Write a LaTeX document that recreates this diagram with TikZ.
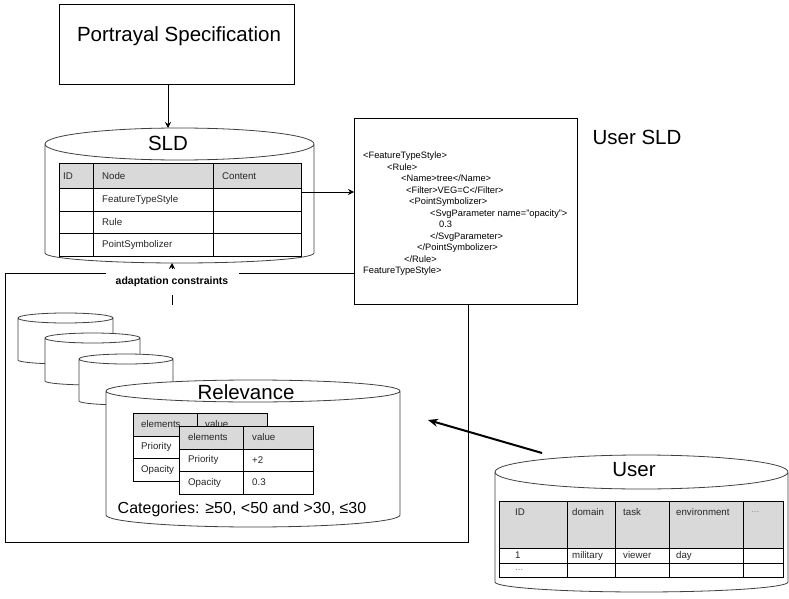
\documentclass[tikz,border=0pt]{standalone}
\usepackage{fontspec}
\setmainfont{Liberation Sans}
\usetikzlibrary{positioning,calc,arrows.meta}

% cylinder drawn round an empty named box: name, top radius, bottom radius
\newcommand{\dbcyl}[3]{%
  \draw[dbline] let \p1=(#1.north west), \p2=(#1.south east), \n1={0.5*(\x2-\x1)} in
    (\x1,\y1-#2) -- (\x1,\y2+#3) arc[start angle=180, end angle=360, x radius=\n1, y radius=#3]
    -- (\x2,\y1-#2) arc[start angle=0, end angle=180, x radius=\n1, y radius=#2] -- cycle
    (\x1,\y1-#2) arc[start angle=180, end angle=360, x radius=\n1, y radius=#2];
}

\begin{document}
\begin{tikzpicture}[
    x=1pt, y=1pt,
    arr/.style={-{Stealth[length=6pt, width=6pt]}, line width=0.8pt},
    bigarr/.style={-{Stealth[length=10pt, width=8pt]}, line width=2pt},
    dbbox/.style={inner sep=0pt, outer sep=0pt, anchor=north west},
    dbline/.style={draw=black!75, fill=white, line width=0.8pt},
    title/.style={font=\fontsize{20.5}{24}\selectfont},
    cell/.style={anchor=west, inner sep=0pt, text=black!85, font=\fontsize{9.7}{11}\selectfont},
    tab/.style={line width=1pt},
    hdr/.style={fill=black!15},
    adaptlbl/.style={fill=white, inner sep=0pt, minimum width=133pt, minimum height=26pt, font=\bfseries\fontsize{10.5}{12}\selectfont}
  ]
  \useasboundingbox (0,0) rectangle (789,-599);

  % Portrayal specification
  \node[draw, line width=0.8pt, minimum width=235pt, minimum height=80pt, dbbox] (spec) at (59,-4) {};
  \node[title] (spectitle) at (179,-36) {Portrayal Specification};

  % SLD database
  \node[dbbox, minimum width=269pt, minimum height=135pt] (sld) at (45,-128) {};
  \dbcyl{sld}{16pt}{10pt}
  \node[title] (sldtitle) at (168,-143) {SLD};
  \draw[arr] (spec.south -| sldtitle) -- (sld.north -| sldtitle);

  \fill[hdr] (59,-163) rectangle (301,-188);
  \node[draw, tab, dbbox, minimum width=242pt, minimum height=93pt] (sldtab) at (59,-163) {};
  \foreach \y in {188,211,233} \draw[tab] (59,-\y) -- (301,-\y);
  \foreach \x in {93,213} \draw[tab] (\x,-163) -- (\x,-256);
  \node[cell] (sldh1) at (63,-176) {ID};
  \node[cell] (sldh2) at (102,-176) {Node};
  \node[cell] (sldh3) at (222,-176) {Content};
  \foreach \t [count=\i] in {FeatureTypeStyle,Rule,PointSymbolizer}
    \node[cell] (sldrow\i) at (102,-177-22.5*\i) {\t};

  % frame of the relevance part
  \coordinate (frametl) at (5,-273);
  \coordinate (sldout) at (301,-192);
  \node[draw, fill=white, line width=0.8pt, dbbox, minimum width=223pt, minimum height=186pt] (xml) at (354,-118) {};
  \draw[line width=0.8pt] (xml.west |- frametl) -- (frametl) -- (5,-542) -- (468,-542) -- (xml.south -| 468,0);

  % adaptation constraints
  \coordinate (adaptlow) at (172,-305);
  \draw[arr] (adaptlow) -- (sld.south -| adaptlow);
  \node[adaptlbl] (adapt) at (172,-282) {adaptation constraints};

  % User SLD
  \node[anchor=north west, inner sep=0pt, align=left, font=\fontsize{9.3}{11.5}\selectfont] (xmlcode) at (363,-152) {%
    <FeatureTypeStyle>\\
    \hspace*{24pt}<Rule>\\
    \hspace*{38pt}<Name>tree</Name>\\
    \hspace*{43pt}<Filter>VEG=C</Filter>\\
    \hspace*{46pt}<PointSymbolizer>\\
    \hspace*{67pt}<SvgParameter name="opacity">\\
    \hspace*{76pt}0.3\\
    \hspace*{67pt}</SvgParameter>\\
    \hspace*{54pt}</PointSymbolizer>\\
    \hspace*{41pt}</Rule>\\
    FeatureTypeStyle>};
  \node[title] (xmllabel) at (637,-137) {User SLD};
  \draw[arr] (sldout) -- (sldout -| xml.west);

  % relevance databases
  \node[dbbox, minimum width=95pt, minimum height=51pt] (cat1) at (18,-313) {};
  \dbcyl{cat1}{5pt}{4pt}
  \node[dbbox, minimum width=95pt, minimum height=52pt] (cat2) at (45,-333) {};
  \dbcyl{cat2}{5pt}{4pt}
  \node[dbbox, minimum width=94pt, minimum height=51pt] (cat3) at (79,-354) {};
  \dbcyl{cat3}{5pt}{4pt}
  \node[dbbox, minimum width=294pt, minimum height=147pt] (rel) at (106,-380) {};
  \dbcyl{rel}{11pt}{12pt}
  \node[title] (reltitle) at (246,-392) {Relevance};

  % back table
  \fill[hdr] (133,-413) rectangle (267,-436);
  \draw[tab] (133,-413) rectangle (267,-481);
  \foreach \y in {436,458} \draw[tab] (133,-\y) -- (267,-\y);
  \draw[tab] (197,-413) -- (197,-481);
  \node[cell] (bkh1) at (141,-424.5) {elements};
  \node[cell] (bkh2) at (205,-424.5) {value};
  \node[cell] (bkr1) at (141,-447) {Priority};
  \node[cell] (bkr2) at (141,-469.5) {Opacity};

  % front table
  \fill[white] (179,-426) rectangle (313,-494);
  \fill[hdr] (179,-426) rectangle (313,-449);
  \draw[tab] (179,-426) rectangle (313,-494);
  \foreach \y in {449,471} \draw[tab] (179,-\y) -- (313,-\y);
  \draw[tab] (243,-426) -- (243,-494);
  \node[cell] (frh1) at (188,-437.5) {elements};
  \node[cell] (frh2) at (252,-437.5) {value};
  \node[cell] (frr1) at (188,-460) {Priority};
  \node[cell] (frv1) at (252,-460) {+2};
  \node[cell] (frr2) at (188,-482.5) {Opacity};
  \node[cell] (frv2) at (252,-482.5) {0.3};

  \node[font=\fontsize{16}{19}\selectfont] (cats) at (242,-509) {Categories: ≥50, <50 and >30, ≤30};

  % User database
  \node[dbbox, minimum width=293pt, minimum height=137pt] (user) at (495,-455) {};
  \dbcyl{user}{17pt}{10pt}
  \node[title] (usertitle) at (634,-470) {User};

  \fill[hdr] (499,-501) rectangle (783,-548);
  \draw[tab] (499,-501) rectangle (783,-577);
  \foreach \y in {548,563} \draw[tab] (499,-\y) -- (783,-\y);
  \foreach \x in {567,615,669,743} \draw[tab] (\x,-501) -- (\x,-577);
  \foreach \x/\t [count=\i] in {515/ID,572/domain,623/task,676/environment}
    \node[cell] (usrh\i) at (\x,-512) {\t};
  \node[cell, text=black!45] (usrh5) at (751,-512) {...};
  \foreach \x/\t [count=\i] in {515/1,572/military,623/viewer,676/day}
    \node[cell] (usrr\i) at (\x,-555.5) {\t};
  \node[cell, text=black!45] (usrmore) at (515,-570) {...};

  % user profile feeds relevance
  \coordinate (usrout) at (542,-453);
  \coordinate (relin) at (428,-420);
  \draw[bigarr] (usrout) -- (relin);
\end{tikzpicture}
\end{document}
